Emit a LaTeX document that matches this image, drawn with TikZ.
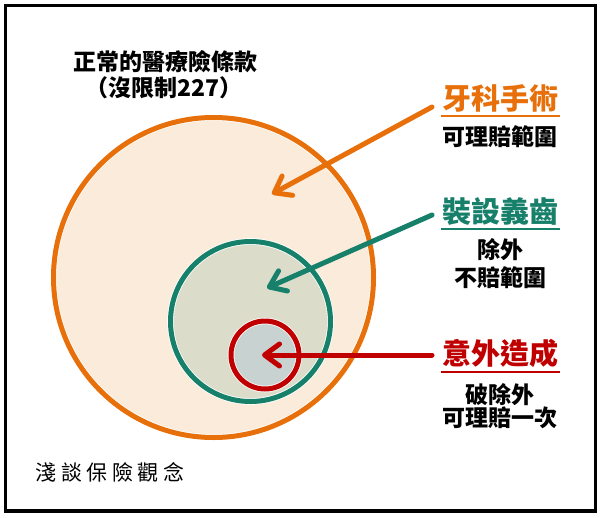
\documentclass[tikz,border=0pt]{standalone}
\usepackage{fontspec}
\newfontfamily\cjk{Noto Sans CJK TC}
\newfontfamily\cjkh{Noto Sans CJK TC Black}
\usetikzlibrary{arrows.meta}
\definecolor{org}{HTML}{E8700A}
\definecolor{ofill}{HTML}{FBEBDA}
\definecolor{grn}{HTML}{17806A}
\definecolor{gfill}{HTML}{DCDCCA}
\definecolor{rd}{HTML}{C00000}
\definecolor{rfill}{HTML}{C8D2D0}
\begin{document}
\begin{tikzpicture}[x=1pt,y=-1pt,
  ring/.style={circle, inner sep=0pt, outer sep=0pt, draw=white, line width=0.8pt, double distance=5pt},
  title/.style={font=\cjkh\fontsize{23}{26}\selectfont, inner sep=0pt},
  head/.style={font=\cjkh\fontsize{29}{32}\selectfont, inner sep=0pt},
  sub/.style={font=\cjkh\fontsize{23}{25}\selectfont, inner sep=0pt},
  arr/.style={line width=5pt, line cap=round, -{Straight Barb[length=15pt,width=22pt,round]}},
  uline/.style={line width=1.5pt}]
\useasboundingbox (0,0) rectangle (600,517);
\fill[white] (0,0) rectangle (600,517);
\draw[line width=3.5pt] (5.5,5.5) rectangle (595.5,511);
% circles
\node[ring, fill=ofill, double=org, minimum size=320pt] (outer) at (213.5,277.5) {};
\node[ring, fill=gfill, double=grn, minimum size=160pt] (mid) at (250.5,321.5) {};
\node[ring, fill=rfill, double=rd, minimum size=68pt] (inner) at (265,355) {};
% title
\node[title] (t1) at (165,62) {正常的醫療險條款};
\node[title] (t2) at (164,88) {（沒限制227）};
% labels
\node[head, text=org] (h1) at (500,98) {牙科手術};
\draw[uline, org] (441,116) -- (560,116);
\node[sub] (s1) at (500,137) {可理賠範圍};
\node[head, text=grn] (h2) at (500,212) {裝設義齒};
\draw[uline, grn] (441,229) -- (560,229);
\node[sub] (s2a) at (500,250) {除外};
\node[sub] (s2b) at (500,278) {不賠範圍};
\node[head, text=rd] (h3) at (500,353) {意外造成};
\draw[uline, rd] (441,372) -- (560,372);
\node[sub] (s3a) at (500,395) {破除外};
\node[sub] (s3b) at (500,418) {可理賠一次};
% arrows
\coordinate (a1s) at (432,107);
\coordinate (a1e) at (272,194);
\coordinate (a2s) at (432,215);
\coordinate (a2e) at (267,288);
\coordinate (a3s) at (432,355);
\coordinate (a3e) at (262,355);
\draw[arr, org] (a1s) -- (a1e);
\draw[arr, grn] (a2s) -- (a2e);
\draw[arr, rd] (a3s) -- (a3e);
% signature
\node[font=\cjk\fontsize{21}{24}\selectfont, inner sep=0pt] (sig) at (110,472) {淺\hspace{4.5pt}談\hspace{4.5pt}保\hspace{4.5pt}險\hspace{4.5pt}觀\hspace{4.5pt}念};
\end{tikzpicture}
\end{document}
